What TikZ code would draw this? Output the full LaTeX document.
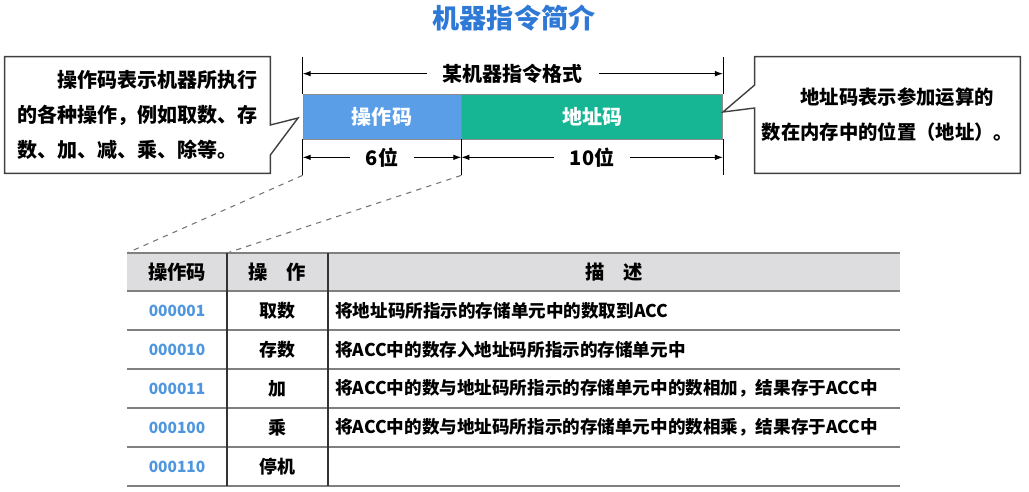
\documentclass[tikz,border=0pt]{standalone}
\usepackage{fontspec}
\setmainfont{Noto Sans CJK SC}
\usetikzlibrary{arrows.meta,positioning,calc}
\definecolor{TitleBlue}{RGB}{46,120,214}
\definecolor{OpBlue}{RGB}{90,158,232}
\definecolor{AddrGreen}{RGB}{22,182,148}
\definecolor{CodeBlue}{RGB}{78,150,222}
\definecolor{HeadGray}{RGB}{221,221,223}
\definecolor{LineGray}{RGB}{128,128,128}
\definecolor{FrameGray}{RGB}{64,64,64}
\tikzset{
  notebox/.style={minimum width=5.3cm,minimum height=2.32cm,align=left,inner sep=0pt,font=\bfseries\fontsize{11.4}{19.9}\selectfont},
  notepath/.style={draw=FrameGray,line width=0.8pt},
  opfield/.style={draw=FrameGray!60,fill=OpBlue,minimum width=3.16cm,minimum height=0.9cm,inner sep=0pt,text=white,font=\bfseries\fontsize{11.4}{13}\selectfont},
  addrfield/.style={draw=FrameGray!60,fill=AddrGreen,minimum width=5.22cm,minimum height=0.9cm,inner sep=0pt,text=white,font=\bfseries\fontsize{11.4}{13}\selectfont},
  dimline/.style={draw=black,line width=0.5pt},
  dimarrow/.style={{Latex[length=1.6mm,width=1.1mm]}-{Latex[length=1.6mm,width=1.1mm]},line width=0.5pt},
  dimlabel/.style={fill=white,inner xsep=0.32cm,inner ysep=1pt,font=\bfseries\fontsize{11.4}{13}\selectfont},
  zoomline/.style={dashed,draw=black!55,line width=0.6pt},
  headcell/.style={inner sep=0pt,font=\bfseries\fontsize{11}{13}\selectfont},
  codecell/.style={inner sep=0pt,text=CodeBlue,font=\bfseries\fontsize{8.8}{11}\selectfont},
  opcell/.style={inner sep=0pt,font=\bfseries\fontsize{10.2}{12}\selectfont},
  desccell/.style={anchor=west,inner sep=0pt,font=\bfseries\fontsize{10}{12}\selectfont},
  rowline/.style={draw=LineGray,line width=1pt},
  colline/.style={draw=black!80,line width=0.8pt}
}
\begin{document}
\begin{tikzpicture}[x=0.02cm,y=-0.02cm]
\useasboundingbox (0,0) rectangle (1029,491);

\node[font=\bfseries\fontsize{15.4}{18}\selectfont,text=TitleBlue] (title) at (514,18) {机器指令简介};

% instruction format
\node[opfield] (op) at (382,116.5) {操作码};
\node[addrfield, right=0pt of op] (addr) {地址码};

\draw[dimline] (op.north west) -- ++(0,-37);
\draw[dimline] (addr.north east) -- ++(0,-37);
\draw[dimline] (op.south west) -- ++(0,36) coordinate (opLb);
\draw[dimline] (op.south east) -- ++(0,36) coordinate (opRb);
\draw[dimline] (addr.south east) -- ++(0,36);

\draw[dimarrow] ($(op.north west)+(0,-20)$) -- ($(addr.north east)+(0,-20)$) node[midway,dimlabel] (fmt) {某机器指令格式};
\draw[dimarrow] ($(op.south west)+(0,18)$) -- ($(op.south east)+(0,18)$) node[midway,dimlabel] (bits6) {6位};
\draw[dimarrow] ($(addr.south west)+(0,18)$) -- ($(addr.south east)+(0,18)$) node[midway,dimlabel] (bits10) {10位};

% callouts
\node[notebox] (opnote) at (137.5,115) {\hspace*{2em}操作码表示机器所执行\\的各种操作，例如取数、存\\数、加、减、乘、除等。};
\coordinate (optip) at (298,118);
\draw[notepath] (opnote.north west) -- (opnote.north east) -- (opnote.east |- 0,125) -- (optip) -- (opnote.east |- 0,155) -- (opnote.south east) -- (opnote.south west) -- cycle;

\node[notebox,font=\bfseries\fontsize{11}{19.9}\selectfont] (adnote) at (887.5,115) {\hspace*{2em}地址码表示参加运算的\\数在内存中的位置（地址）。};
\coordinate (adtip) at (723,112);
\draw[notepath] (adnote.north west) -- (adnote.north east) -- (adnote.south east) -- (adnote.south west) -- (adnote.west |- 0,108) -- (adtip) -- (adnote.west |- 0,85) -- cycle;

% table
\coordinate (tabNW) at (127,253);
\coordinate (tabC1) at (227,253);
\draw[zoomline] (opLb) -- (tabNW);
\draw[zoomline] (opRb) -- (tabC1);

\fill[HeadGray] (127,253) rectangle (900,291);
\node[headcell] (h1) at (177,272) {操作码};
\node[headcell] (h2) at (277,272) {操\hspace{1em}作};
\node[headcell] (h3) at (614,272) {描\hspace{1em}述};

\foreach \code/\op/\desc [count=\i] in {
  000001/取数/将地址码所指示的存储单元中的数取到ACC,
  000010/存数/将ACC中的数存入地址码所指示的存储单元中,
  000011/加/将ACC中的数与地址码所指示的存储单元中的数相加，结果存于ACC中,
  000100/乘/将ACC中的数与地址码所指示的存储单元中的数相乘，结果存于ACC中,
  000110/停机/{}}{
  \pgfmathsetmacro\yc{291+39*\i-19.5}
  \node[codecell] (c\i) at (177,\yc) {\code};
  \node[opcell] (o\i) at (277,\yc) {\op};
  \node[desccell] (d\i) at (335,\yc) {\desc};
}

\foreach \yl in {253,291,330,369,408,447,486}
  \draw[rowline] (127,\yl) -- (900,\yl);
\draw[colline] (227,253) -- (227,486);
\draw[colline] (328,253) -- (328,486);
\end{tikzpicture}
\end{document}
